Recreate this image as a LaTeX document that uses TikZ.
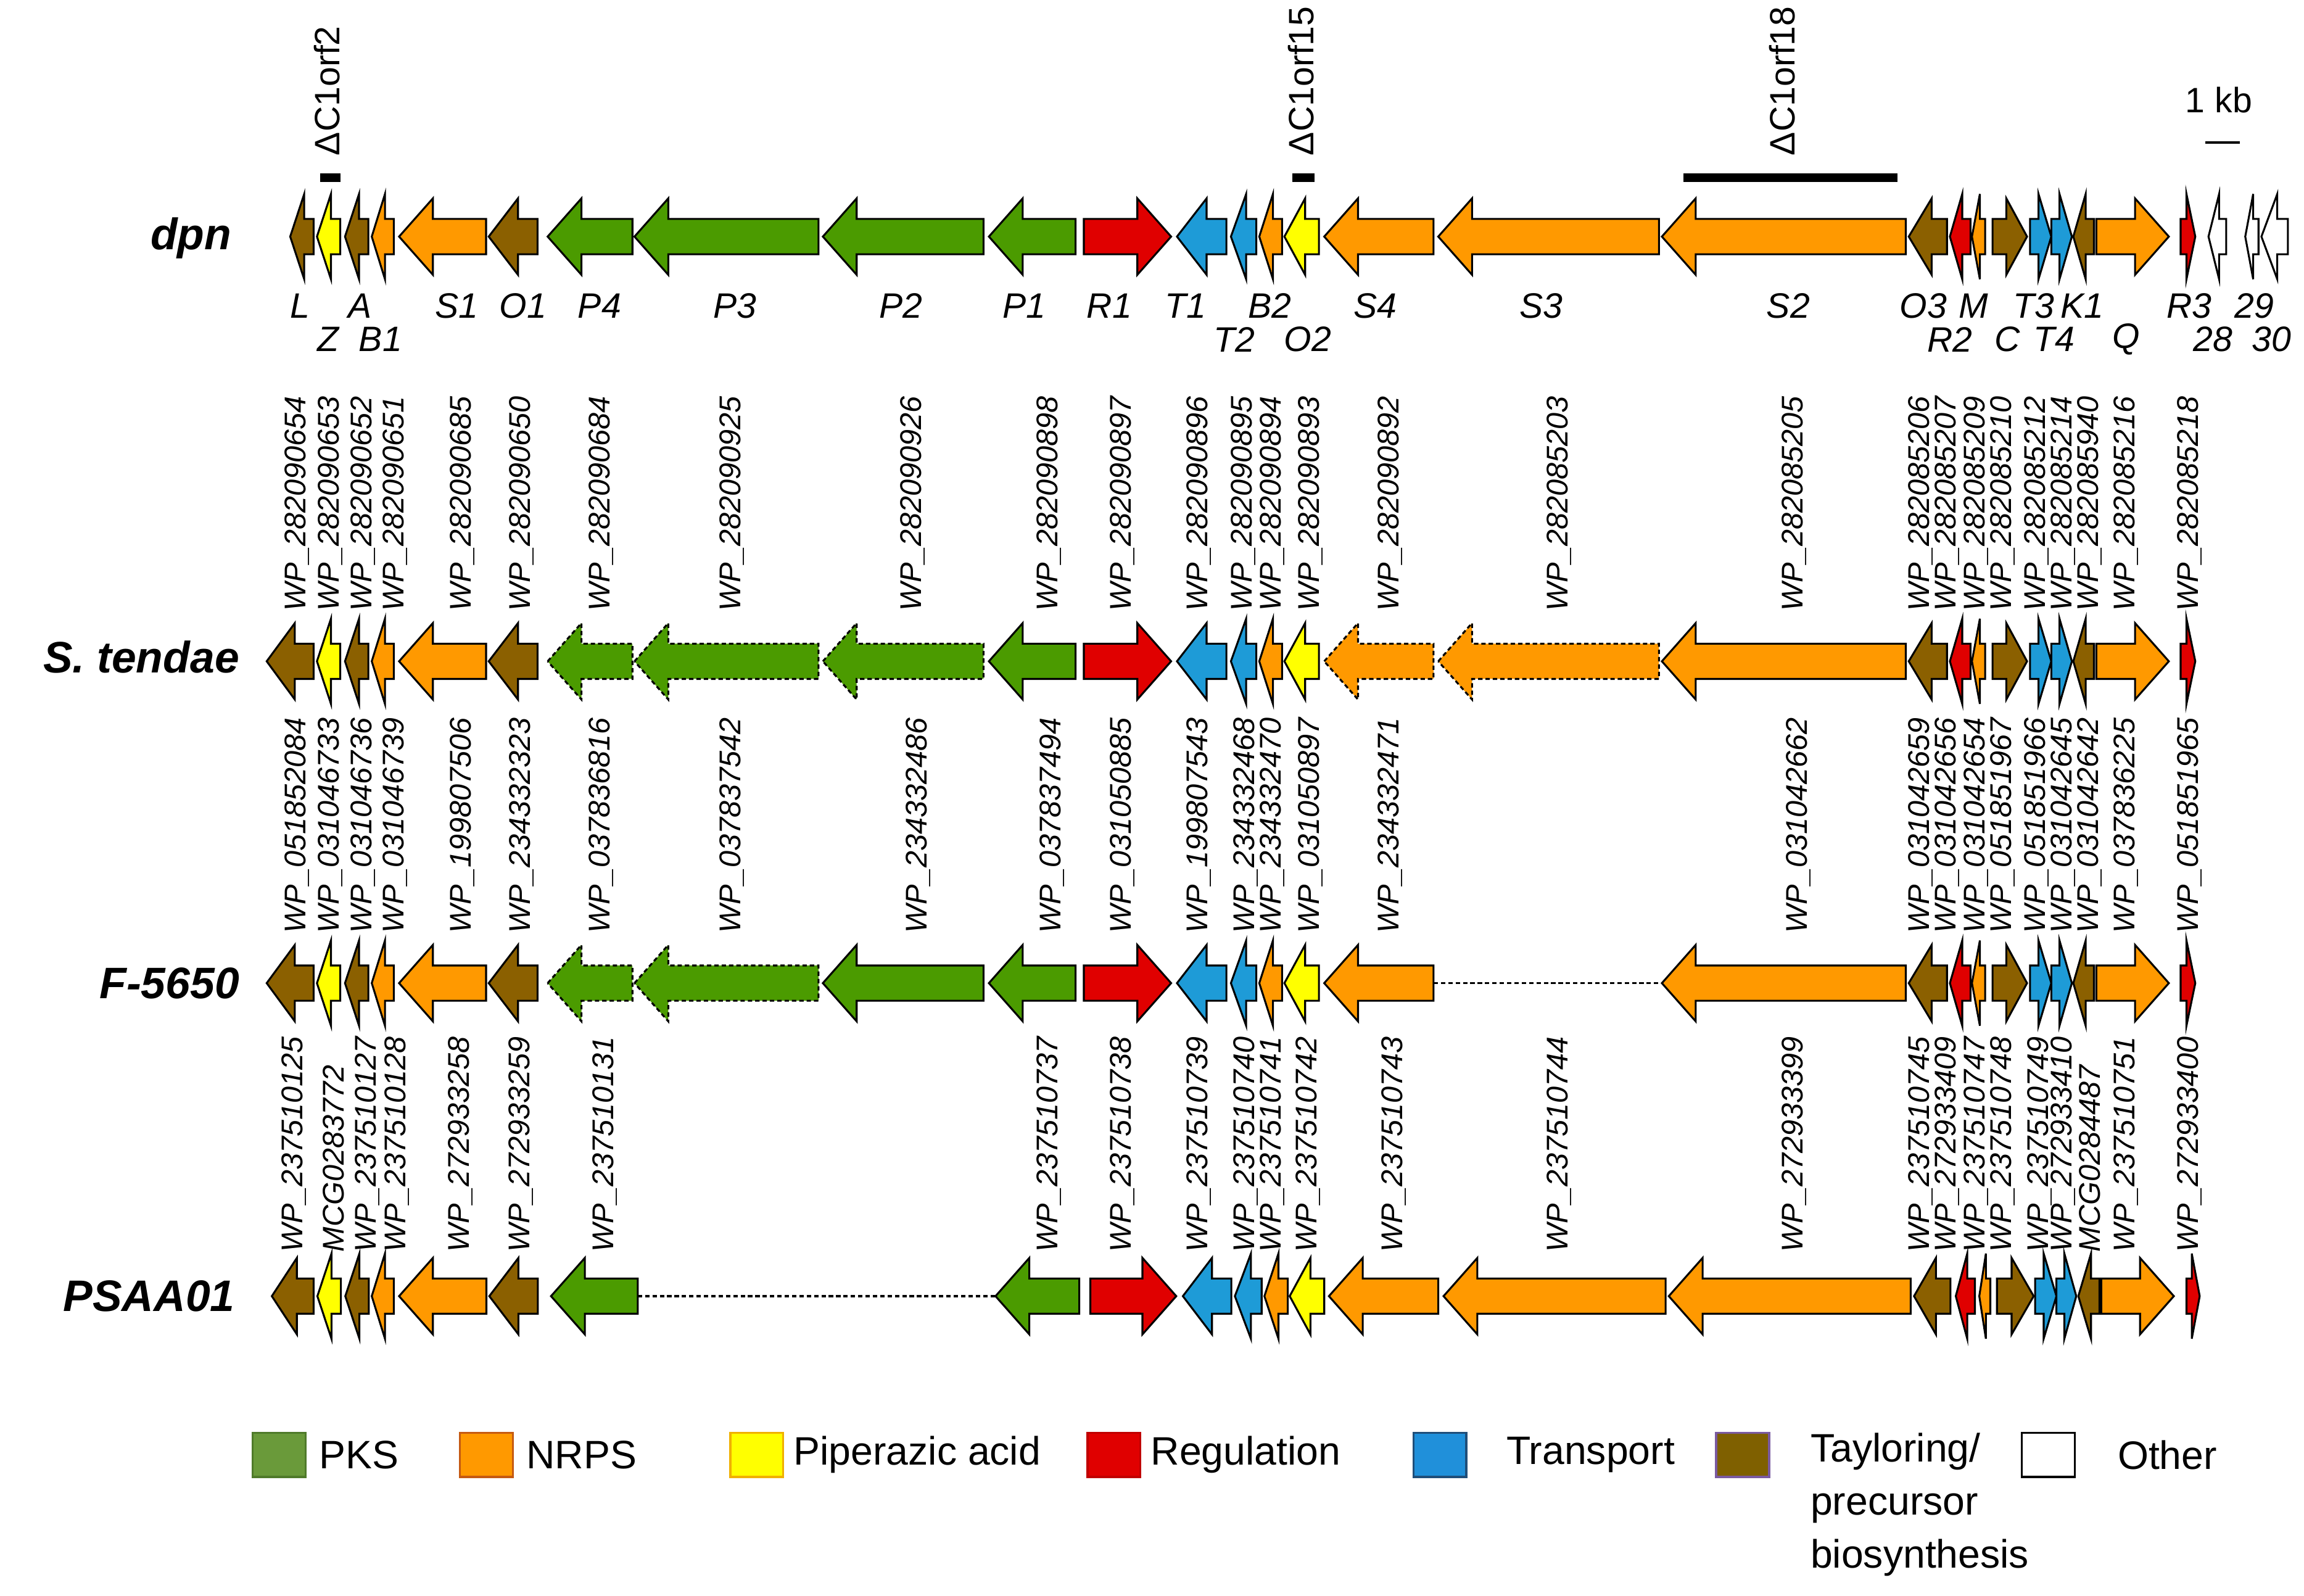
\documentclass[tikz,border=0pt]{standalone}
\usepackage{fontspec}
\setmainfont{Liberation Sans}
\definecolor{cG}{HTML}{4B9B00}
\definecolor{cO}{HTML}{FF9900}
\definecolor{cY}{HTML}{FFFF00}
\definecolor{cR}{HTML}{E00000}
\definecolor{cB}{HTML}{1E9BD7}
\definecolor{cN}{HTML}{8B6000}
\definecolor{cW}{HTML}{FFFFFF}
\definecolor{lG}{HTML}{6A9A3A}\definecolor{lGb}{HTML}{4F7A2A}
\definecolor{lOb}{HTML}{C55A11}
\definecolor{lYb}{HTML}{F0B000}
\definecolor{lRb}{HTML}{C00000}
\definecolor{lB}{HTML}{2090DA}\definecolor{lBb}{HTML}{1F4E79}
\definecolor{lN}{HTML}{7F6000}\definecolor{lNb}{HTML}{7A5AA0}
\newcommand\gL[5]{%
 \pgfmathsetmacro\gh{min(23,0.6*(#2-#1))}%
 \pgfmathsetmacro\gH{(#2-#1)<23?29:26}%
 \draw[gene,fill=#4,#5] (#1,#3) -- ({#1+\gh},{#3-\gH}) -- ({#1+\gh},{#3-12}) -- (#2,{#3-12}) -- (#2,{#3+12}) -- ({#1+\gh},{#3+12}) -- ({#1+\gh},{#3+\gH}) -- cycle;}
\newcommand\gR[5]{%
 \pgfmathsetmacro\gh{min(23,0.6*(#2-#1))}%
 \pgfmathsetmacro\gH{(#2-#1)<23?29:26}%
 \draw[gene,fill=#4,#5] (#2,#3) -- ({#2-\gh},{#3-\gH}) -- ({#2-\gh},{#3-12}) -- (#1,{#3-12}) -- (#1,{#3+12}) -- ({#2-\gh},{#3+12}) -- ({#2-\gh},{#3+\gH}) -- cycle;}
\tikzset{gene/.style={draw=black,line width=1.3pt,line join=miter},
 dsh/.style={dash pattern=on 3pt off 2pt},
 lab/.style={font=\fontsize{24}{26}\selectfont\itshape,inner sep=0},
 wp/.style={font=\fontsize{20.4}{22}\selectfont\itshape,rotate=90,anchor=west,inner sep=0},
 del/.style={font=\fontsize{24}{26}\selectfont,rotate=90,anchor=west,inner sep=0},
 row/.style={font=\fontsize{30}{32}\selectfont\bfseries\itshape,inner sep=0},
 leg/.style={font=\fontsize{27}{36}\selectfont,anchor=west,inner sep=0,align=left},
 sw/.style={line width=1.5pt}}
\begin{document}
\begin{tikzpicture}[x=1pt,y=-1pt]
\useasboundingbox (0,0) rectangle (1568,1086);
% row labels
\node[row] (rdpn) at (130,162) {dpn};
\node[row,anchor=east] (rst) at (163,447) {S. tendae};
\node[row,anchor=east] (rf) at (163,669) {F-5650};
\node[row,anchor=east] (rp) at (160,882) {PSAA01};
% deletions
\fill (218,118) rectangle (231.6,124);
\fill (879.5,118) rectangle (894.4,124);
\fill (1145.6,118) rectangle (1291.3,124);
\node[del] (d2) at (222.5,106) {ΔC1orf2};
\node[del] (d15) at (885.4,106) {ΔC1orf15};
\node[del] (d18) at (1213,106) {ΔC1orf18};
\node[font=\fontsize{24}{26}\selectfont] (kb) at (1510,68) {1 kb};
\draw[line width=2pt] (1501,97) -- (1524.5,97);
% ---------- dpn
\def\y{161}
\gL{197.5}{213.4}{\y}{cN}{} \gL{215.7}{231.6}{\y}{cY}{} \gL{234.8}{250.7}{\y}{cN}{} \gL{253}{268}{\y}{cO}{}
\gL{271.6}{330.8}{\y}{cO}{} \gL{332.6}{365.8}{\y}{cN}{} \gL{372.7}{430.4}{\y}{cG}{} \gL{431.8}{557}{\y}{cG}{}
\gL{560}{669.3}{\y}{cG}{} \gL{673}{732}{\y}{cG}{} \gR{737.6}{797}{\y}{cR}{} \gL{801}{834.6}{\y}{cB}{}
\gL{837.7}{855}{\y}{cB}{} \gL{857}{872.5}{\y}{cO}{} \gL{874.1}{897.6}{\y}{cY}{} \gL{901.2}{975.6}{\y}{cO}{}
\gL{978.8}{1129}{\y}{cO}{} \gL{1131}{1297}{\y}{cO}{} \gL{1299}{1325}{\y}{cN}{} \gL{1327}{1341}{\y}{cR}{}
\gL{1342}{1351}{\y}{cO}{} \gR{1356}{1379.5}{\y}{cN}{} \gR{1381.5}{1396}{\y}{cB}{} \gR{1396}{1410}{\y}{cB}{}
\gL{1411}{1425}{\y}{cN}{} \gR{1426.6}{1476}{\y}{cO}{} \gR{1484}{1494}{\y}{cR}{}
\gL{1503}{1515}{\y}{cW}{} \gL{1528}{1537}{\y}{cW}{} \gL{1539}{1557}{\y}{cW}{}
\foreach \x/\t in {204/L,245/A,311/S1,356/O1,408/P4,500/P3,613/P2,697/P1,755/R1,807/T1,864/B2,936/S4,1049/S3,1217/S2,1309/O3,1343/M,1384/T3,1417/K1,1490/R3,1534/29}
  \node[lab] at (\x,208) {\t};
\foreach \x/\t in {223.4/Z,259/B1,840/T2,890/O2,1327/R2,1366/C,1398/T4,1447/Q,1506/28,1546/30}
  \node[lab] at (\x,231) {\t};
% ---------- S. tendae
\def\y{450}
\gL{181.5}{213.4}{\y}{cN}{} \gL{215.7}{231.6}{\y}{cY}{} \gL{234.8}{250.7}{\y}{cN}{} \gL{253}{268}{\y}{cO}{}
\gL{271.6}{330.8}{\y}{cO}{} \gL{332.6}{365.8}{\y}{cN}{} \gL{372.7}{430.4}{\y}{cG}{dsh} \gL{431.8}{557}{\y}{cG}{dsh}
\gL{560}{669.3}{\y}{cG}{dsh} \gL{673}{732}{\y}{cG}{} \gR{737.6}{797}{\y}{cR}{} \gL{801}{834.6}{\y}{cB}{}
\gL{837.7}{855}{\y}{cB}{} \gL{857}{872.5}{\y}{cO}{} \gL{874.1}{897.6}{\y}{cY}{} \gL{901.2}{975.6}{\y}{cO}{dsh}
\gL{978.8}{1129}{\y}{cO}{dsh} \gL{1131}{1297}{\y}{cO}{} \gL{1299}{1325}{\y}{cN}{} \gL{1327}{1341}{\y}{cR}{}
\gL{1342}{1351}{\y}{cO}{} \gR{1356}{1379.5}{\y}{cN}{} \gR{1381.5}{1396}{\y}{cB}{} \gR{1396}{1410}{\y}{cB}{}
\gL{1411}{1425}{\y}{cN}{} \gR{1426.6}{1476}{\y}{cO}{} \gR{1484}{1494}{\y}{cR}{}
% ---------- F-5650
\def\y{669}
\gL{181.5}{213.4}{\y}{cN}{} \gL{215.7}{231.6}{\y}{cY}{} \gL{234.8}{250.7}{\y}{cN}{} \gL{253}{268}{\y}{cO}{}
\gL{271.6}{330.8}{\y}{cO}{} \gL{332.6}{365.8}{\y}{cN}{} \gL{372.7}{430.4}{\y}{cG}{dsh} \gL{431.8}{557}{\y}{cG}{dsh}
\gL{560}{669.3}{\y}{cG}{} \gL{673}{732}{\y}{cG}{} \gR{737.6}{797}{\y}{cR}{} \gL{801}{834.6}{\y}{cB}{}
\gL{837.7}{855}{\y}{cB}{} \gL{857}{872.5}{\y}{cO}{} \gL{874.1}{897.6}{\y}{cY}{} \gL{901.2}{975.6}{\y}{cO}{}
\gL{1131}{1297}{\y}{cO}{} \gL{1299}{1325}{\y}{cN}{} \gL{1327}{1341}{\y}{cR}{}
\gL{1342}{1351}{\y}{cO}{} \gR{1356}{1379.5}{\y}{cN}{} \gR{1381.5}{1396}{\y}{cB}{} \gR{1396}{1410}{\y}{cB}{}
\gL{1411}{1425}{\y}{cN}{} \gR{1426.6}{1476}{\y}{cO}{} \gR{1484}{1494}{\y}{cR}{}
\coordinate (fa) at (975.6,669); \coordinate (fb) at (1131,669);
\draw[line width=1.3pt,dash pattern=on 3pt off 2pt] (fa) -- (fb);
% ---------- PSAA01
\def\y{882}
\gL{185}{213.4}{\y}{cN}{} \gL{216}{232}{\y}{cY}{} \gL{235}{251}{\y}{cN}{} \gL{253}{268}{\y}{cO}{}
\gL{271.6}{331}{\y}{cO}{} \gL{333}{366}{\y}{cN}{} \gL{375}{434}{\y}{cG}{}
\gL{677.5}{734.5}{\y}{cG}{} \gR{742}{800.5}{\y}{cR}{} \gL{805}{838}{\y}{cB}{}
\gL{840.4}{858.6}{\y}{cB}{} \gL{860.5}{876.4}{\y}{cO}{} \gL{877.7}{901.2}{\y}{cY}{} \gL{904.4}{978.8}{\y}{cO}{}
\gL{982.4}{1133.5}{\y}{cO}{} \gL{1135.7}{1300.3}{\y}{cO}{} \gL{1302.6}{1327.4}{\y}{cN}{} \gL{1331}{1344}{\y}{cR}{}
\gL{1347}{1354.5}{\y}{cO}{} \gR{1359}{1384}{\y}{cN}{} \gR{1385}{1399.5}{\y}{cB}{} \gR{1399.5}{1413}{\y}{cB}{}
\gL{1414.4}{1428.8}{\y}{cN}{} \gR{1430}{1479.4}{\y}{cO}{} \gR{1488}{1497}{\y}{cR}{}
\coordinate (pa) at (434,882); \coordinate (pb) at (677.5,882);
\draw[line width=1.3pt,dash pattern=on 3pt off 2pt] (pa) -- (pb);
% ---------- accession labels
\foreach \x/\t in {202/282090654,225/282090653,247/282090652,269/282090651,314.5/282090685,355/282090650,409/282090684,498/282090925,621/282090926,714/282090898,764/282090897,816/282090896,846/282090895,866/282090894,892/282090893,946/282090892,1061/282085203,1221/282085205,1307/282085206,1325/282085207,1345/282085209,1363/282085210,1386/282085212,1404/282085214,1422/282085940,1447/282085216,1490/282085218}
  \node[wp] at (\x,416) {WP\_\t};
\foreach \x/\t in {202/051852084,225/031046733,247/031046736,269/031046739,314.5/199807506,355/234332323,409/037836816,498/037837542,625/234332486,716/037837494,764/031050885,816/199807543,848/234332468,866/234332470,892/031050897,946/234332471,1224/031042662,1307/031042659,1325/031042656,1345/031042654,1363/051851967,1386/051851966,1404/031042645,1422/031042642,1447/037836225,1490/051851965}
  \node[wp] at (\x,635) {WP\_\t};
\foreach \x/\t in {200/WP\_237510125,227/MCG0283772,250/WP\_237510127,270/WP\_237510128,313.5/WP\_272933258,354.5/WP\_272933259,411.5/WP\_237510131,714/WP\_237510737,764/WP\_237510738,816/WP\_237510739,848/WP\_237510740,866/WP\_237510741,890/WP\_237510742,948.6/WP\_237510743,1061/WP\_237510744,1221/WP\_272933399,1307/WP\_237510745,1325/WP\_272933409,1345/WP\_237510747,1363/WP\_237510748,1388/WP\_237510749,1404/WP\_272933410,1422/MCG0284487,1447/WP\_237510751,1490/WP\_272933400}
  \node[wp] at (\x,852) {\t};
% ---------- legend
\filldraw[sw,fill=lG,draw=lGb] (172,975) rectangle (208,1005);
\node[leg] (l1) at (217,990) {PKS};
\filldraw[sw,fill=cO,draw=lOb] (313,975) rectangle (349,1005);
\node[leg] (l2) at (358,990) {NRPS};
\filldraw[sw,fill=cY,draw=lYb] (497,975) rectangle (533,1005);
\node[leg] (l3) at (540,990) {Piperazic acid};
\filldraw[sw,fill=cR,draw=lRb] (740,975) rectangle (776,1005);
\node[leg] (l4) at (783,990) {Regulation};
\filldraw[sw,fill=lB,draw=lBb] (962,975) rectangle (998,1005);
\node[leg] (l5) at (1025,990) {Transport};
\filldraw[sw,fill=lN,draw=lNb] (1168,975) rectangle (1204,1005);
\node[leg,anchor=north west] (l6) at (1232,975) {Tayloring/\\precursor\\biosynthesis};
\filldraw[sw,fill=white,draw=black] (1376,975) rectangle (1412,1005);
\node[leg] (l7) at (1441,990) {Other};
\end{tikzpicture}
\end{document}
